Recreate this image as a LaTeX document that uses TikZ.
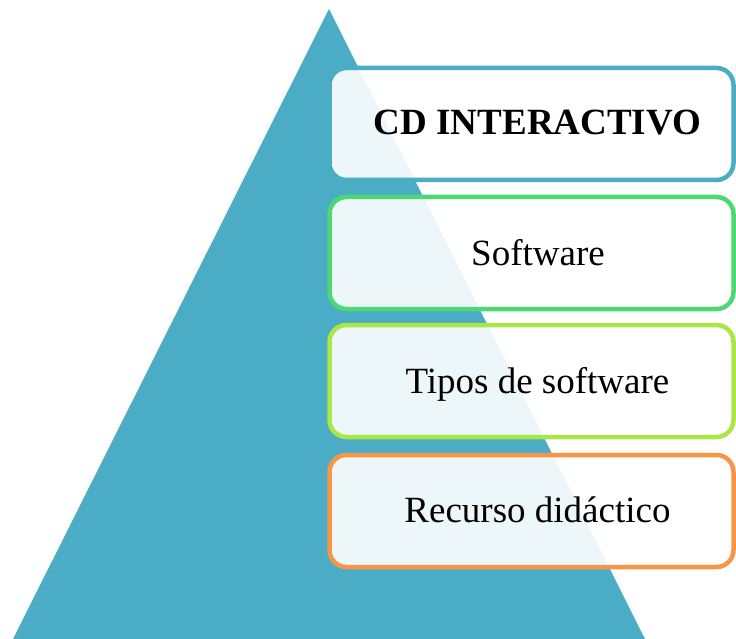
\documentclass[tikz,border=0pt]{standalone}
\usepackage{fontspec}
\setmainfont{Liberation Serif}
\definecolor{triblue}{RGB}{75,172,198}
\definecolor{boxgreen}{RGB}{76,217,115}
\definecolor{boxlime}{RGB}{170,230,70}
\definecolor{boxorange}{RGB}{247,150,70}
\tikzset{
  levelbox/.style={draw=#1, line width=4.5pt, rounded corners=17pt, fill=white, fill opacity=0.9,
    minimum width=404pt, minimum height=112pt, inner sep=0pt},
  lbl/.style={anchor=base, inner sep=0pt, font=\fontsize{37}{44}\selectfont, text=black}
}
\begin{document}
\begin{tikzpicture}[x=1pt,y=-1pt]
\useasboundingbox (0,0) rectangle (736,639);
\clip (0,0) rectangle (736,639);
\fill[triblue] (329,9) -- (13,639) -- (645,639) -- cycle;
\node[levelbox=triblue] (b1) at (531.5,124) {};
\node[levelbox=boxgreen] (b2) at (531.5,253) {};
\node[levelbox=boxlime] (b3) at (531.5,381) {};
\node[levelbox=boxorange] (b4) at (531.5,511) {};
\node[lbl, font=\fontsize{37}{44}\selectfont\bfseries] (t1) at (537.5,135) {CD INTERACTIVO};
\node[lbl] (t2) at (538,265) {Software};
\node[lbl] (t3) at (537.5,393) {Tipos de software};
\node[lbl] (t4) at (537.5,522) {Recurso didáctico};
\end{tikzpicture}
\end{document}
